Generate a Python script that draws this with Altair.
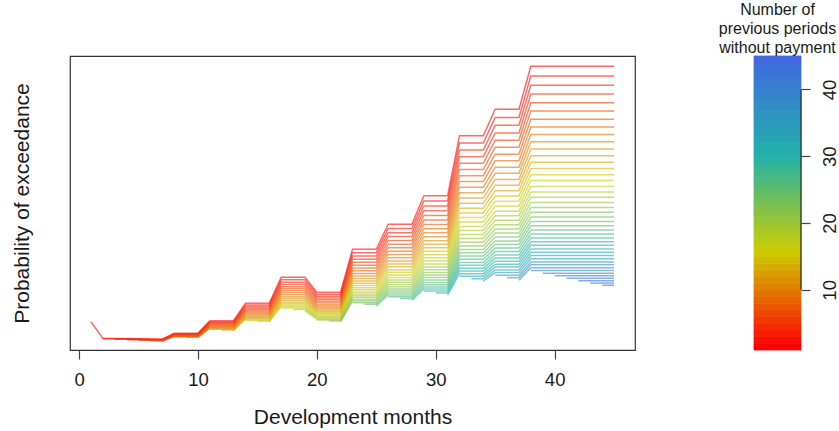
import altair as alt
import pandas as pd

# Development months (x) and the exceedance probability of the k = 1 series (top red line)
months = list(range(1, 46))
top_line = [0.0283, 0.0117, 0.0116, 0.0115, 0.0113, 0.0111, 0.0108,
            0.0167, 0.0167, 0.0167,
            0.0293, 0.0293, 0.0293,
            0.0467, 0.0467, 0.0467,
            0.0727, 0.0727, 0.0727,
            0.0577, 0.0577, 0.0577,
            0.1007, 0.1007, 0.1007,
            0.1257, 0.1257, 0.1257,
            0.1543, 0.1543, 0.1543,
            0.2143, 0.2143, 0.2143,
            0.2407, 0.2407, 0.2407,
            0.2837, 0.2837, 0.2837, 0.2837, 0.2837, 0.2837, 0.2837, 0.2837]

# Number of previous periods without payment, and each series' value at month 45
periods = list(range(1, 45))
end_values = [0.2837, 0.2741, 0.2648, 0.2559, 0.2472, 0.2389, 0.2308, 0.2230,
              0.2155, 0.2082, 0.2011, 0.1943, 0.1878, 0.1814, 0.1753, 0.1694,
              0.1636, 0.1581, 0.1528, 0.1476, 0.1426, 0.1378, 0.1331, 0.1286,
              0.1243, 0.1201, 0.1160, 0.1121, 0.1083, 0.1047, 0.1011, 0.0977,
              0.0944, 0.0912, 0.0881, 0.0852, 0.0823, 0.0795, 0.0768, 0.0742,
              0.0717, 0.0693, 0.0669, 0.0647]

palette = ["#FF0000", "#CDCD00", "#20B2AA", "#4169E1"]
x_ticks = [0, 10, 20, 30, 40]
bar_ticks = [10, 20, 30, 40]

rows = []
for k, e in zip(periods, end_values):
    for m, t in zip(months, top_line):
        if m >= k:
            rows.append({"k": k, "month": m, "prob": t * e / end_values[0]})
df = pd.DataFrame(rows)

FONT = "Liberation Sans"
color_scale = alt.Scale(domain=[1, 44], range=palette, interpolate="rgb")

main = alt.Chart(df).mark_line(strokeWidth=1.5, opacity=0.6, clip=True).encode(
    x=alt.X("month:Q",
            scale=alt.Scale(domain=[-0.76, 46.76], nice=False, zero=False),
            axis=alt.Axis(values=x_ticks, format="d", title="Development months",
                          grid=False, domain=False, tickSize=9, tickColor="#444",
                          tickWidth=1.2, labelPadding=11, labelFontSize=18.5,
                          labelColor="#1a1a1a", titleFontSize=21,
                          titleFontWeight="normal", titleColor="#1a1a1a",
                          titlePadding=18, labelFont=FONT, titleFont=FONT)),
    y=alt.Y("prob:Q",
            scale=alt.Scale(domain=[0, 0.294], nice=False, zero=False),
            axis=alt.Axis(title="Probability of exceedance", labels=False, ticks=False,
                          domain=False, grid=False, titleFontSize=21,
                          titleFontWeight="normal", titleColor="#1a1a1a",
                          titlePadding=38, titleFont=FONT)),
    color=alt.Color("k:Q", scale=color_scale, legend=None),
    detail="k:N",
    order=alt.Order("month:Q"),
).properties(width=565, height=294,
             view=alt.ViewBackground(stroke="#333", strokeWidth=1.2))

bar_df = pd.DataFrame({"k": periods, "k_end": [k + 1 for k in periods],
                       "x0": [0] * len(periods), "x1": [1] * len(periods)})
bar = alt.Chart(bar_df).mark_rect(strokeWidth=0.8).encode(
    x=alt.X("x0:Q", scale=alt.Scale(domain=[0, 1], nice=False, zero=False), axis=None),
    x2="x1",
    y=alt.Y("k:Q", scale=alt.Scale(domain=[1, 45], nice=False, zero=False),
            axis=alt.Axis(orient="right", values=bar_ticks, title=None, domain=False,
                          grid=False, tickSize=9, tickColor="#444", tickWidth=1.2,
                          labelAngle=270, labelAlign="center", labelBaseline="top",
                          labelPadding=10, labelFontSize=18.5, labelColor="#1a1a1a",
                          labelFont=FONT)),
    y2="k_end",
    color=alt.Color("k:Q", scale=color_scale, legend=None),
    stroke=alt.Stroke("k:Q", scale=color_scale, legend=None),
)
axis_df = pd.DataFrame({"x": [1], "lo": [bar_ticks[0]], "hi": [bar_ticks[-1]]})
axis_line = alt.Chart(axis_df).mark_rule(color="#333", strokeWidth=1.3).encode(
    x=alt.X("x:Q"), y=alt.Y("lo:Q"), y2="hi")

bar_chart = alt.layer(bar, axis_line).properties(
    width=47, height=294,
    title=alt.Title(["Number of", "previous periods", "without payment"],
                    fontSize=16, fontWeight="normal", anchor="middle", lineHeight=19,
                    baseline="bottom", offset=-16, frame="group", color="#1a1a1a",
                    font=FONT),
    view=alt.ViewBackground(stroke="transparent"),
)

chart = alt.hconcat(main, bar_chart, spacing=119, bounds="flush").resolve_scale(
    x="independent", y="independent", color="independent"
).properties(
    padding={"left": 10, "top": 1, "right": 0, "bottom": 0}
).configure(font=FONT).configure_view(stroke="transparent")

chart.save("out.html", embed_options={"renderer": "svg", "actions": False})
